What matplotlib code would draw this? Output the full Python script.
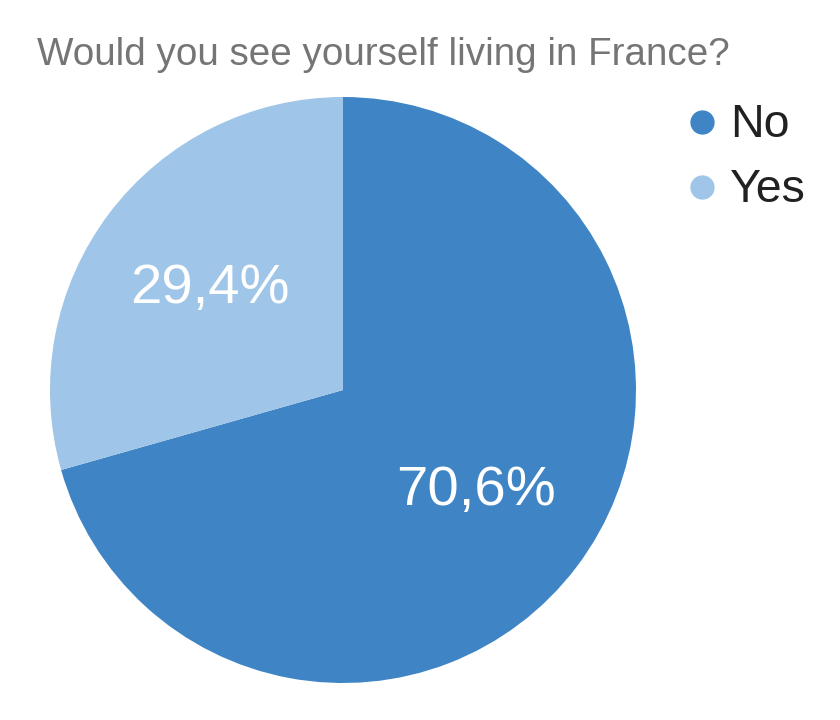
import matplotlib.pyplot as plt
from matplotlib.lines import Line2D

plt.rcParams['font.family'] = ['Liberation Sans', 'DejaVu Sans']

# data
labels = ['No', 'Yes']
values = [70.6, 29.4]
colors = ['#3f85c6', '#9fc5e8']
title = 'Would you see yourself living in France?'

W, H = 840, 720
fig = plt.figure(figsize=(W / 100, H / 100), dpi=100)

# pie centred at (343, 390) px, radius 293 px
cx, cy, r = 343, 390, 293
ax = fig.add_axes([(cx - r) / W, (H - cy - r) / H, 2 * r / W, 2 * r / H])
wedges, texts, autotexts = ax.pie(
    values, colors=colors, startangle=90, counterclock=False,
    autopct=lambda p: f'{p:.1f}%'.replace('.', ','), pctdistance=0.57,
    textprops=dict(color='white', fontsize=40.5),
    wedgeprops=dict(linewidth=0))
for t in autotexts:
    t.set_va('center')
ax.set_xlim(-1, 1)
ax.set_ylim(-1, 1)
ax.axis('off')

fig.text(37 / W, 1 - 65 / H, title, fontsize=27.8, color='#757575',
         ha='left', va='baseline')

# legend, drawn by hand
for i, (lab, col) in enumerate(zip(labels, colors)):
    ym = 122 + 65 * i
    fig.add_artist(Line2D([702 / W], [1 - ym / H], marker='o', markersize=16.5,
                          color=col, linestyle='none', transform=fig.transFigure))
    fig.text(730 / W, 1 - (137 + 65 * i) / H, lab, fontsize=33.5, color='#212121',
             ha='left', va='baseline')

fig.savefig('out.png', dpi=100)
